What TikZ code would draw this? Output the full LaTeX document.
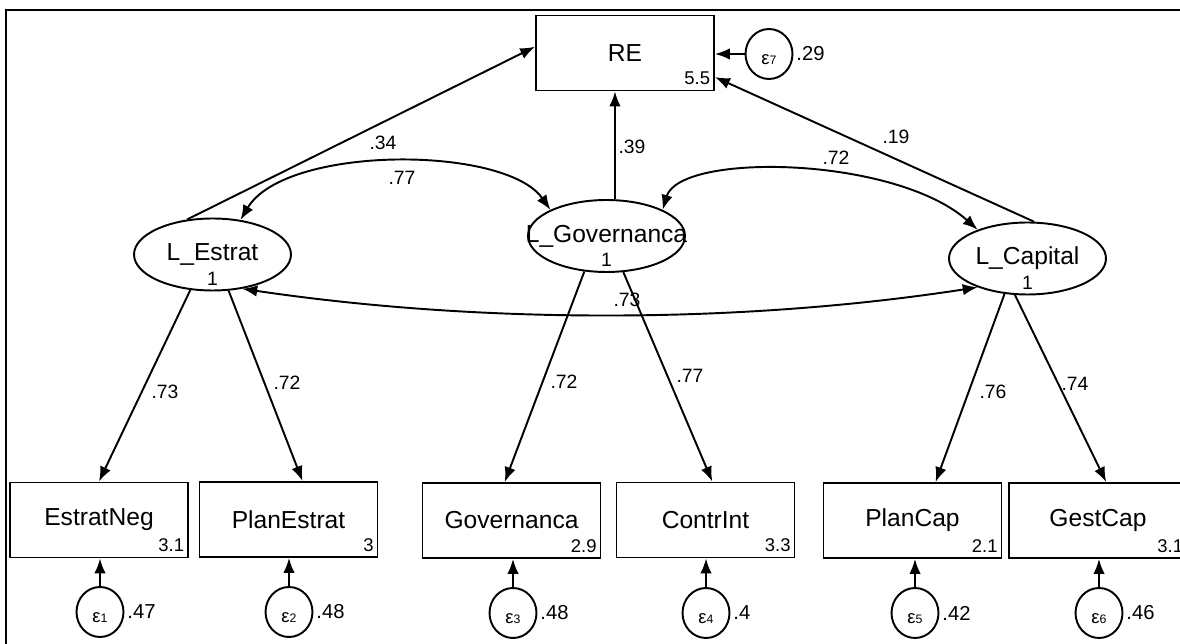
\documentclass[tikz,border=0pt]{standalone}
\usepackage{fontspec}
\setmainfont{Liberation Sans}
\usetikzlibrary{shapes.geometric,arrows.meta}

\newcommand{\errlab}[1]{{\fontsize{10.5}{11}\selectfont ε}{\fontsize{7}{8}\selectfont #1}}

\tikzset{
  obsvar/.style={draw,line width=1.1pt,minimum width=3.56cm,minimum height=1.5cm,inner sep=0pt,font=\fontsize{14}{16}\selectfont},
  latvar/.style={draw,ellipse,line width=1.1pt,minimum width=3.14cm,minimum height=1.44cm,inner sep=0pt},
  errvar/.style={draw,ellipse,line width=1.1pt,minimum width=0.94cm,minimum height=1cm,inner sep=0pt,text height=12.5pt,text depth=0pt},
  latname/.style={font=\fontsize{14}{16}\selectfont,inner sep=0pt},
  coef/.style={font=\fontsize{11}{12}\selectfont,inner sep=0pt},
  mean/.style={font=\fontsize{10.5}{11}\selectfont,anchor=south east,inner xsep=2.6pt,inner ysep=3.6pt},
  one/.style={font=\fontsize{11}{12}\selectfont,anchor=south,inner sep=3.2pt},
  evar/.style={font=\fontsize{11.5}{12}\selectfont,anchor=west,inner sep=1.5pt},
  effect/.style={-{Latex[length=8.5pt,width=6.5pt]},line width=1.1pt},
  cov/.style={{Latex[length=8.5pt,width=6.5pt]}-{Latex[length=8.5pt,width=6.5pt]},line width=1.1pt},
}

\begin{document}
\begin{tikzpicture}[x=0.02cm,y=-0.02cm]
  \useasboundingbox (0,0) rectangle (1180,644);
  \draw[line width=1.1pt] (6,660) -- (6,10) -- (1200,10);

  % outcome and its error
  \node[obsvar,label={[mean]south east:5.5}] (re) at (625,53) {RE};
  \node[errvar,label={[evar]east:.29}] (e7) at (769,54) {\errlab{7}};
  \draw[effect] (e7.west) -- (e7.west -| re.east);

  % latent variables
  \node[latvar,label={[latname]center:L\_Estrat},label={[one]south:1}] (lestrat) at (212.5,254.5) {};
  \node[latvar,label={[latname]center:L\_Governanca},label={[one]south:1}] (gov) at (606.5,236) {};
  \node[latvar,label={[latname]center:L\_Capital},label={[one]south:1}] (lcap) at (1027.5,258.5) {};

  % indicators
  \node[obsvar,label={[mean]south east:3.1}] (estratneg) at (99,520) {EstratNeg};
  \node[obsvar,label={[mean]south east:3}] (planestrat) at (288.5,519.5) {PlanEstrat};
  \node[obsvar,label={[mean]south east:2.9}] (governanca) at (511.5,520.5) {Governanca};
  \node[obsvar,label={[mean]south east:3.3}] (contrint) at (705.5,520) {ContrInt};
  \node[obsvar,label={[mean]south east:2.1}] (plancap) at (912.5,520.5) {PlanCap};
  \node[obsvar,label={[mean]south east:3.1}] (gestcap) at (1098,520.5) {GestCap};

  % errors of the indicators
  \node[errvar,label={[evar]east:.47}] (e1) at (100,612) {\errlab{1}};
  \node[errvar,label={[evar]east:.48}] (e2) at (289,612) {\errlab{2}};
  \node[errvar,label={[evar]east:.48}] (e3) at (513,613) {\errlab{3}};
  \node[errvar,label={[evar]east:.4}] (e4) at (706,613) {\errlab{4}};
  \node[errvar,label={[evar]east:.42}] (e5) at (915,613) {\errlab{5}};
  \node[errvar,label={[evar]east:.46}] (e6) at (1099,613) {\errlab{6}};
  \draw[effect] (e1.north) -- (e1.north |- estratneg.south);
  \draw[effect] (e2.north) -- (e2.north |- planestrat.south);
  \draw[effect] (e3.north) -- (e3.north |- governanca.south);
  \draw[effect] (e4.north) -- (e4.north |- contrint.south);
  \draw[effect] (e5.north) -- (e5.north |- plancap.south);
  \draw[effect] (e6.north) -- (e6.north |- gestcap.south);

  % structural paths
  \draw[effect] (lestrat.126) -- (re.176);
  \draw[effect] (gov.77) -- (gov.77 |- re.south);
  \draw[effect] (lcap.80) -- (re.-15);
  \node[coef] (c34) at (383,143) {.34};
  \node[coef] (c39) at (632,147) {.39};
  \node[coef] (c19) at (896,137) {.19};

  % covariances
  \draw[cov] (lestrat.51) .. controls (285,145) and (505,145) .. (gov.155);
  \draw[cov] (gov.25) .. controls (680,152) and (895,156) .. (lcap.150);
  \draw[cov] (lestrat.-49) .. controls (480,324) and (740,324) .. (lcap.210);
  \node[coef] (c77) at (402,178) {.77};
  \node[coef] (c72) at (836,158) {.72};
  \node[coef] (c73) at (627,300) {.73};

  % loadings
  \draw[effect] (lestrat.238) -- (estratneg.north);
  \draw[effect] (lestrat.294) -- (planestrat.70);
  \draw[effect] (gov.238) -- (governanca.100);
  \draw[effect] (gov.295) -- (contrint.80);
  \draw[effect] (lcap.237) -- (plancap.59);
  \draw[effect] (lcap.251) -- (gestcap.78);
  \node[coef] (l1) at (165,392) {.73};
  \node[coef] (l2) at (287,383) {.72};
  \node[coef] (l3) at (564,382) {.72};
  \node[coef] (l4) at (690,376) {.77};
  \node[coef] (l5) at (993,392) {.76};
  \node[coef] (l6) at (1075,384) {.74};
\end{tikzpicture}
\end{document}
